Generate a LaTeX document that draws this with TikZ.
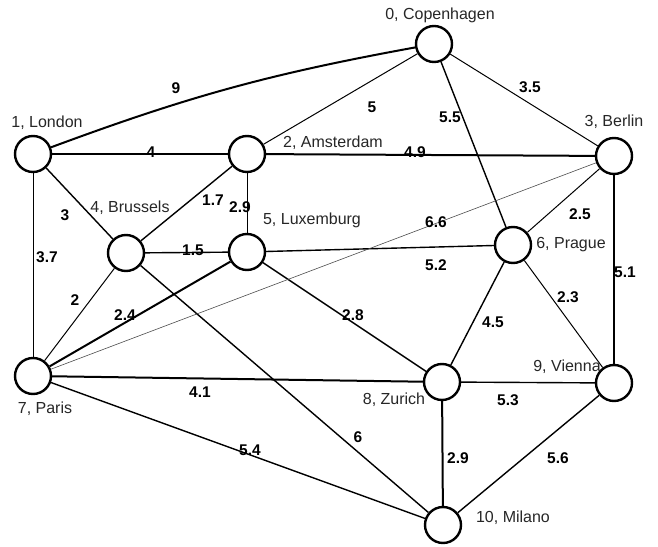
\documentclass[tikz,border=0pt]{standalone}
\usepackage{fontspec}
\setmainfont{Liberation Sans}
\begin{document}
\begin{tikzpicture}[x=1pt,y=1pt,
  city/.style={circle,draw=black,line width=2.4pt,minimum size=36pt,inner sep=0pt,fill=white},
  cname/.style={anchor=base,inner sep=0pt,font=\fontsize{16}{18}\selectfont,text=black!85},
  wt/.style={inner sep=0pt,font=\fontsize{15.5}{18}\selectfont\bfseries},
  thk/.style={line width=2pt},
  med/.style={line width=1.4pt},
  thn/.style={line width=1pt},
  fnt/.style={line width=0.6pt,black!70}]
\useasboundingbox (0,0) rectangle (658,546);
% nodes
\node[city] (n0) at (434,502) {};
\node[city] (n1) at (33,392) {};
\node[city] (n2) at (247,392) {};
\node[city] (n3) at (614,390) {};
\node[city] (n4) at (126,293) {};
\node[city] (n5) at (247,294) {};
\node[city] (n6) at (513,301) {};
\node[city] (n7) at (33,170) {};
\node[city] (n8) at (442,164) {};
\node[city] (n9) at (614,163) {};
\node[city] (n10) at (443,21) {};
% edges
\draw[thk] (n1) to[bend left=5] (n0);
\draw[thn] (n2) -- (n0);
\draw[med] (n6) -- (n0);
\draw[thn] (n3) -- (n0);
\draw[thk] (n1) -- (n2);
\draw[thk] (n2) -- (n3);
\draw[med] (n1) -- (n4);
\draw[thn] (n1) -- (n7);
\draw[med] (n2) -- (n4);
\draw[thn] (n2) -- (n5);
\draw[med] (n4) -- (n5);
\draw[thn] (n4) -- (n7);
\draw[med] (n4) -- (n10);
\draw[thk] (n5) -- (n7);
\draw[med] (n5) -- (n6);
\draw[med] (n5) -- (n8);
\draw[fnt] (n3) -- (n7);
\draw[thn] (n3) -- (n6);
\draw[med] (n3) -- (n9);
\draw[med] (n6) -- (n8);
\draw[thn] (n6) -- (n9);
\draw[thk] (n7) -- (n8);
\draw[med] (n7) -- (n10);
\draw[med] (n8) -- (n9);
\draw[thk] (n8) -- (n10);
\draw[med] (n9) -- (n10);
% city names
\node[cname] (l0) at (440,526) {0, Copenhagen};
\node[cname] (l1) at (47,418) {1, London};
\node[cname] (l2) at (333,398) {2, Amsterdam};
\node[cname] (l3) at (614,419) {3, Berlin};
\node[cname] (l4) at (130,333) {4, Brussels};
\node[cname] (l5) at (312,321) {5, Luxemburg};
\node[cname] (l6) at (571,297) {6, Prague};
\node[cname] (l7) at (45,132) {7, Paris};
\node[cname] (l8) at (394,141) {8, Zurich};
\node[cname] (l9) at (567,174) {9, Vienna};
\node[cname] (l10) at (513,24) {10, Milano};
% weights
\node[wt] (w01) at (176,458) {9};
\node[wt] (w12) at (151,394) {4};
\node[wt] (w02) at (372,439) {5};
\node[wt] (w06) at (450,429) {5.5};
\node[wt] (w03) at (530,459) {3.5};
\node[wt] (w23) at (415,394) {4.9};
\node[wt] (w14) at (65,331) {3};
\node[wt] (w24) at (213,346) {1.7};
\node[wt] (w25) at (240,339) {2.9};
\node[wt] (w45) at (193,296) {1.5};
\node[wt] (w17) at (47,289) {3.7};
\node[wt] (w37) at (436,324) {6.6};
\node[wt] (w36) at (580,332) {2.5};
\node[wt] (w56) at (436,281) {5.2};
\node[wt] (w39) at (625,274) {5.1};
\node[wt] (w47) at (75,246) {2};
\node[wt] (w57) at (125,231) {2.4};
\node[wt] (w58) at (353,231) {2.8};
\node[wt] (w68) at (493,224) {4.5};
\node[wt] (w69) at (568,249) {2.3};
\node[wt] (w78) at (200,154) {4.1};
\node[wt] (w89) at (508,146) {5.3};
\node[wt] (w410) at (358,109) {6};
\node[wt] (w710) at (250,96) {5.4};
\node[wt] (w810) at (458,88) {2.9};
\node[wt] (w910) at (558,88) {5.6};
\end{tikzpicture}
\end{document}
